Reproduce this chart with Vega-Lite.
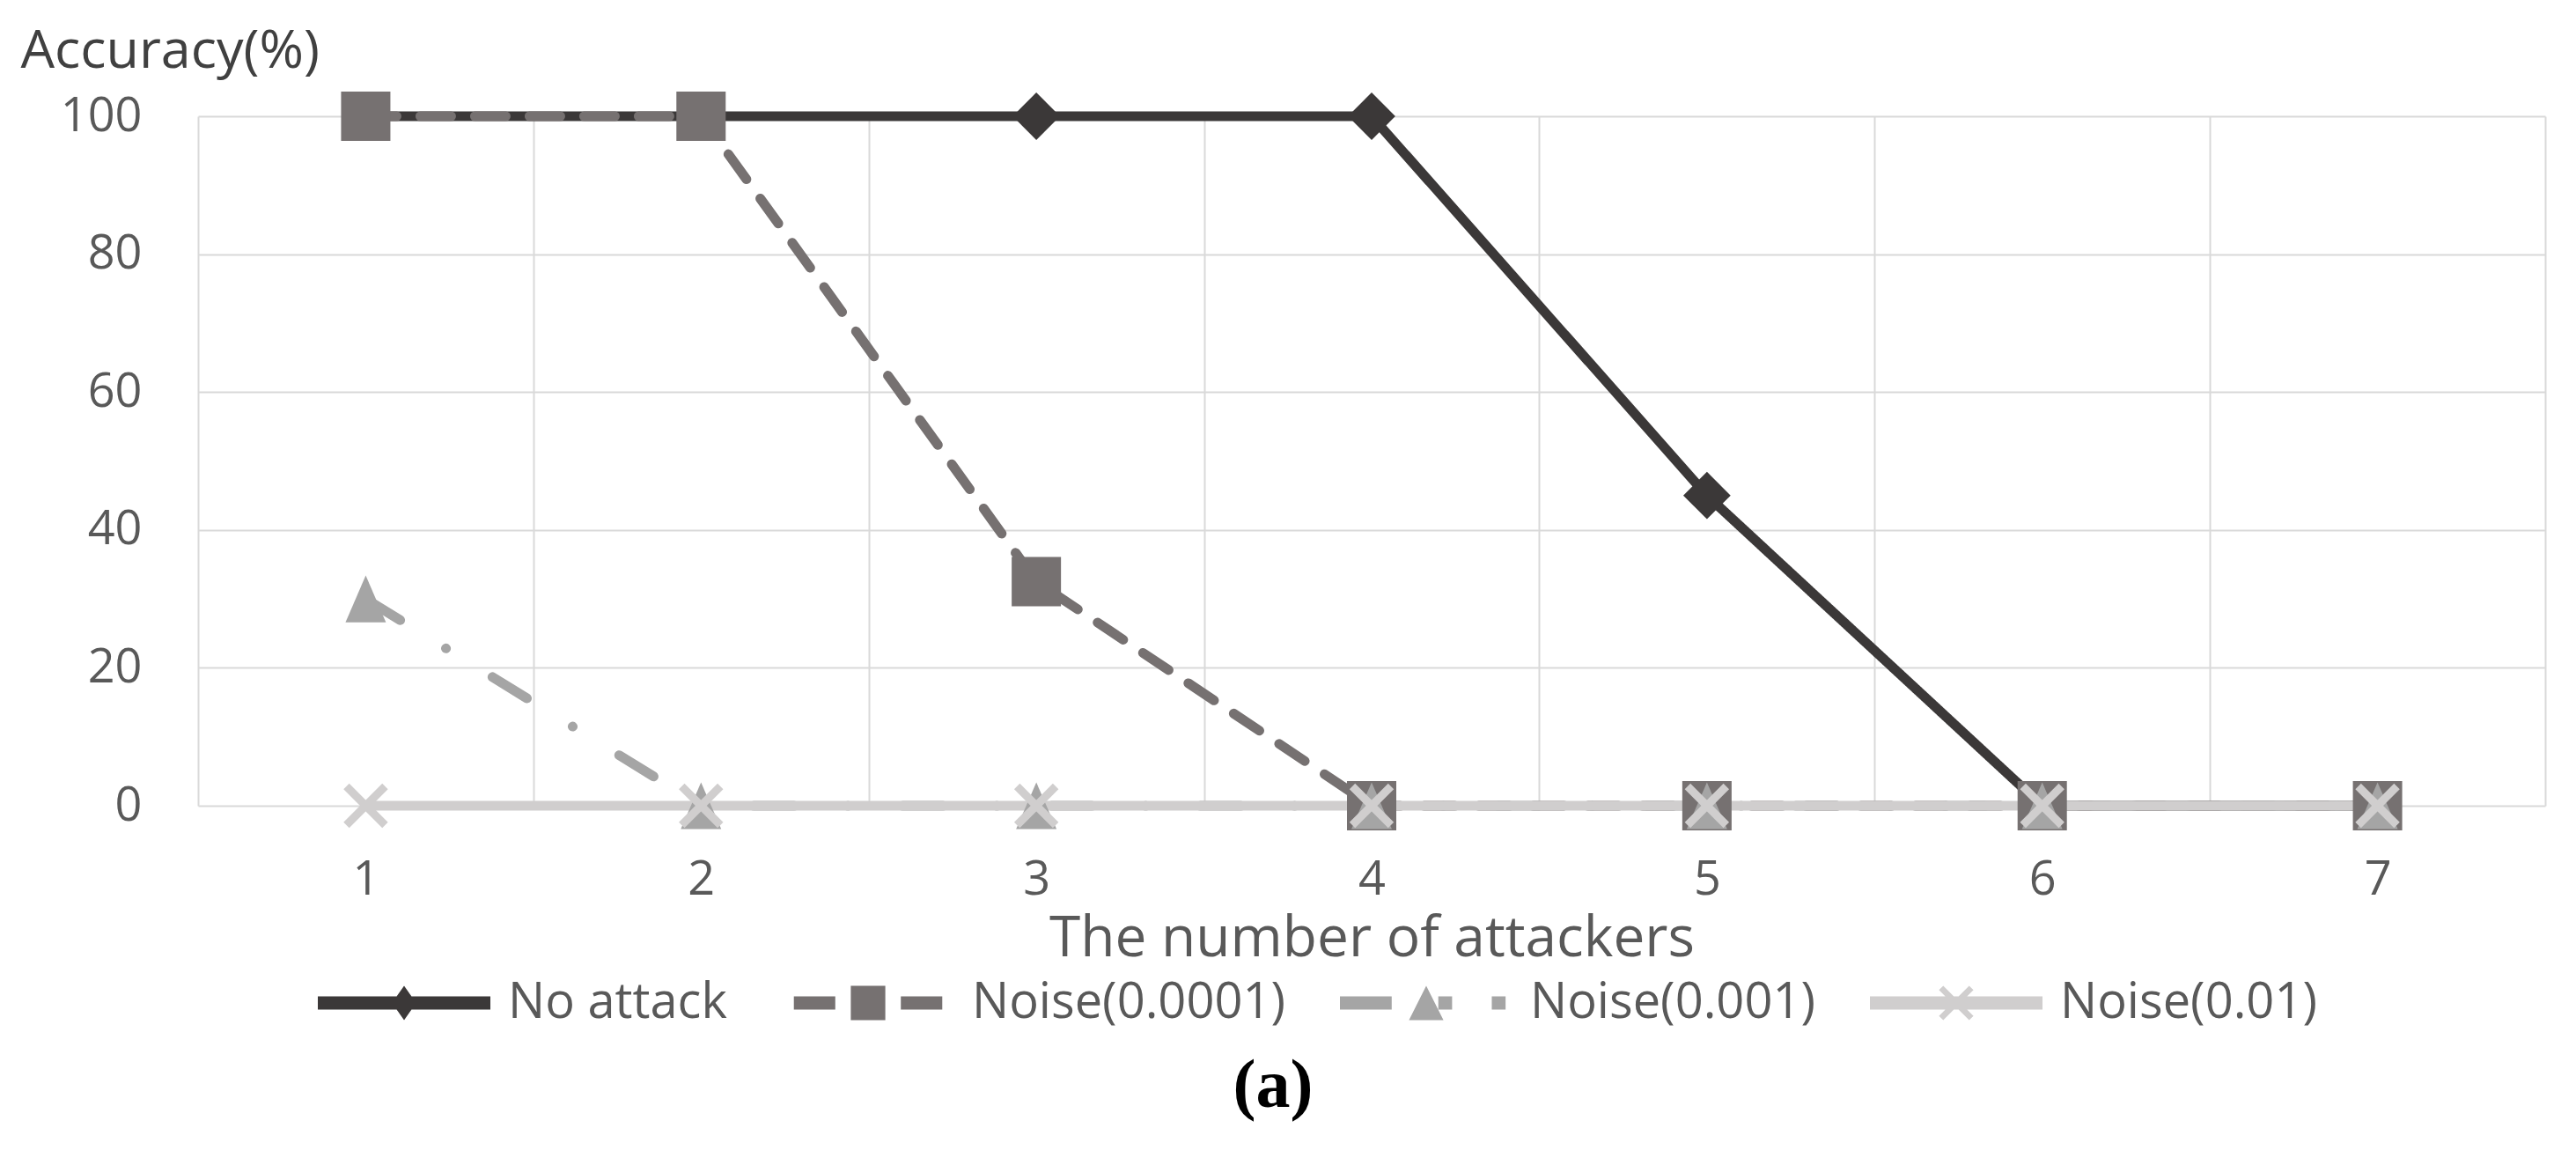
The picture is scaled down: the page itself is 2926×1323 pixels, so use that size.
{
  "$schema": "https://vega.github.io/schema/vega-lite/v6.json",
  "width": 2666,
  "height": 783,
  "autosize": {"type": "none"},
  "padding": {"left": 225, "top": 132, "right": 35, "bottom": 408},
  "background": "white",
  "config": {"view": {"stroke": null}, "font": "Open Sans"},
  "title": {"text": "(a)", "orient": "bottom", "frame": "group", "anchor": "middle", "font": "Liberation Serif", "fontWeight": "bold", "fontSize": 78, "color": "#000000", "dx": -112, "offset": 28},
  "data": {"values": [
    {"series": "No attack", "attackers": 1, "accuracy": 100},
    {"series": "No attack", "attackers": 2, "accuracy": 100},
    {"series": "No attack", "attackers": 3, "accuracy": 100},
    {"series": "No attack", "attackers": 4, "accuracy": 100},
    {"series": "No attack", "attackers": 5, "accuracy": 45},
    {"series": "No attack", "attackers": 6, "accuracy": 0},
    {"series": "No attack", "attackers": 7, "accuracy": 0},
    {"series": "Noise(0.0001)", "attackers": 1, "accuracy": 100},
    {"series": "Noise(0.0001)", "attackers": 2, "accuracy": 100},
    {"series": "Noise(0.0001)", "attackers": 3, "accuracy": 32.5},
    {"series": "Noise(0.0001)", "attackers": 4, "accuracy": 0},
    {"series": "Noise(0.0001)", "attackers": 5, "accuracy": 0},
    {"series": "Noise(0.0001)", "attackers": 6, "accuracy": 0},
    {"series": "Noise(0.0001)", "attackers": 7, "accuracy": 0},
    {"series": "Noise(0.001)", "attackers": 1, "accuracy": 30},
    {"series": "Noise(0.001)", "attackers": 2, "accuracy": 0},
    {"series": "Noise(0.001)", "attackers": 3, "accuracy": 0},
    {"series": "Noise(0.001)", "attackers": 4, "accuracy": 0},
    {"series": "Noise(0.001)", "attackers": 5, "accuracy": 0},
    {"series": "Noise(0.001)", "attackers": 6, "accuracy": 0},
    {"series": "Noise(0.001)", "attackers": 7, "accuracy": 0},
    {"series": "Noise(0.01)", "attackers": 1, "accuracy": 0},
    {"series": "Noise(0.01)", "attackers": 2, "accuracy": 0},
    {"series": "Noise(0.01)", "attackers": 3, "accuracy": 0},
    {"series": "Noise(0.01)", "attackers": 4, "accuracy": 0},
    {"series": "Noise(0.01)", "attackers": 5, "accuracy": 0},
    {"series": "Noise(0.01)", "attackers": 6, "accuracy": 0},
    {"series": "Noise(0.01)", "attackers": 7, "accuracy": 0}
  ]},
  "encoding": {
    "x": {
      "field": "attackers", "type": "quantitative",
      "scale": {"domain": [0.5, 7.5], "nice": false, "zero": false},
      "axis": {
        "values": [0.5, 1, 1.5, 2, 2.5, 3, 3.5, 4, 4.5, 5, 5.5, 6, 6.5, 7, 7.5],
        "labelExpr": "datum.value % 1 === 0 ? '' + datum.value : ''",
        "grid": true, "gridColor": "#d9d9d9", "gridWidth": 2,
        "gridOpacity": {"condition": {"test": "datum.value % 1 === 0", "value": 0}, "value": 1},
        "ticks": false, "tickSize": 0, "domain": false,
        "labelFont": "Open Sans", "labelFontSize": 54, "labelColor": "#595959",
        "labelPadding": 100, "labelBaseline": "alphabetic", "labelFlush": false, "labelOverlap": false,
        "title": "The number of attackers", "titleFont": "Open Sans", "titleFontSize": 64,
        "titleColor": "#595959", "titleFontWeight": "normal", "titleY": 170, "titleBaseline": "alphabetic"
      }
    },
    "y": {
      "field": "accuracy", "type": "quantitative",
      "scale": {"domain": [0, 100], "nice": false},
      "axis": {
        "values": [0, 20, 40, 60, 80, 100],
        "grid": true, "gridColor": "#d9d9d9", "gridWidth": 2,
        "ticks": false, "tickSize": 0, "domain": false,
        "labelFont": "Open Sans", "labelFontSize": 54, "labelColor": "#595959", "labelPadding": 64,
        "title": "Accuracy(%)", "titleAngle": 0, "titleX": -202, "titleY": -56,
        "titleAlign": "left", "titleBaseline": "alphabetic", "titleFont": "Open Sans",
        "titleFontSize": 61, "titleColor": "#404040", "titleFontWeight": "normal"
      }
    }
  },
  "layer": [
    {
      "mark": {"type": "line", "strokeWidth": 11, "strokeCap": "round", "strokeJoin": "round"},
      "encoding": {
        "color": {"field": "series", "type": "nominal",
          "scale": {"domain": ["No attack", "Noise(0.0001)", "Noise(0.001)", "Noise(0.01)"], "range": ["#3b3838", "#767171", "#a5a5a5", "#d0cece"]},
          "legend": null},
        "strokeDash": {"field": "series", "type": "nominal",
          "scale": {"domain": ["No attack", "Noise(0.0001)", "Noise(0.001)", "Noise(0.01)"], "range": [[1, 0], [35, 27], [46, 61, 0.1, 62], [1, 0]]},
          "legend": null}
      }
    },
    {
      "mark": {"type": "point", "filled": true, "size": 3136, "opacity": 1, "strokeWidth": 0},
      "encoding": {
        "color": {"field": "series", "type": "nominal",
          "scale": {"domain": ["No attack", "Noise(0.0001)", "Noise(0.001)", "Noise(0.01)"], "range": ["#3b3838", "#767171", "#a5a5a5", "#d0cece"]},
          "legend": null},
        "shape": {"field": "series", "type": "nominal",
          "scale": {"domain": ["No attack", "Noise(0.0001)", "Noise(0.001)", "Noise(0.01)"], "range": [
            "M0,-0.96L0.96,0L0,0.96L-0.96,0Z",
            "M-1,-1L1,-1L1,1L-1,1Z",
            "M0,-0.95L0.82,0.95L-0.82,0.95Z",
            "M-0.9,-0.67L-0.67,-0.9L0.9,0.67L0.67,0.9Z M0.67,-0.9L0.9,-0.67L-0.67,0.9L-0.9,0.67Z"
          ]},
          "legend": null}
      }
    },
    {
      "transform": [{"filter": "datum.accuracy < 0"}],
      "mark": {"type": "point", "filled": true, "size": 3136, "opacity": 1, "strokeWidth": 0},
      "encoding": {
        "color": {"field": "series", "type": "nominal",
          "scale": {"domain": ["No attack", "Noise(0.0001)", "Noise(0.001)", "Noise(0.01)"], "range": ["#3b3838", "#767171", "#a5a5a5", "#d0cece"]},
          "legend": {"title": null, "orient": "none", "legendX": 136, "legendY": 909, "direction": "horizontal", "columns": 4, "symbolSize": 38416, "symbolStrokeWidth": 0, "labelFont": "Open Sans", "labelFontSize": 56, "labelColor": "#595959", "labelOffset": 20, "columnPadding": 62, "padding": 0, "labelLimit": 1000}},
        "shape": {"field": "series", "type": "nominal",
          "scale": {"domain": ["No attack", "Noise(0.0001)", "Noise(0.001)", "Noise(0.01)"], "range": [
            "M-1,-0.077L1,-0.077L1,0.077L-1,0.077Z M0,-0.2L0.14,0L0,0.2L-0.14,0Z",
            "M-0.86,-0.077L-0.38,-0.077L-0.38,0.077L-0.86,0.077Z M-0.2,-0.2L0.2,-0.2L0.2,0.2L-0.2,0.2Z M0.38,-0.077L0.86,-0.077L0.86,0.077L0.38,0.077Z",
            "M-1,-0.077L-0.4,-0.077L-0.4,0.077L-1,0.077Z M0,-0.2L0.2,0.2L-0.2,0.2Z M0.14,-0.077L0.3,-0.077L0.3,0.077L0.14,0.077Z M0.76,-0.077L0.92,-0.077L0.92,0.077L0.76,0.077Z",
            "M-1,-0.077L1,-0.077L1,0.077L-1,0.077Z M-0.2,-0.15L-0.15,-0.2L0.2,0.15L0.15,0.2Z M0.15,-0.2L0.2,-0.15L-0.15,0.2L-0.2,0.15Z"
          ]},
          "legend": {"title": null, "orient": "none", "legendX": 136, "legendY": 909, "direction": "horizontal", "columns": 4, "symbolSize": 38416, "symbolStrokeWidth": 0, "labelFont": "Open Sans", "labelFontSize": 56, "labelColor": "#595959", "labelOffset": 20, "columnPadding": 62, "padding": 0, "labelLimit": 1000}}
      }
    }
  ],
  "resolve": {"scale": {"color": "independent", "shape": "independent", "strokeDash": "independent"}}
}
